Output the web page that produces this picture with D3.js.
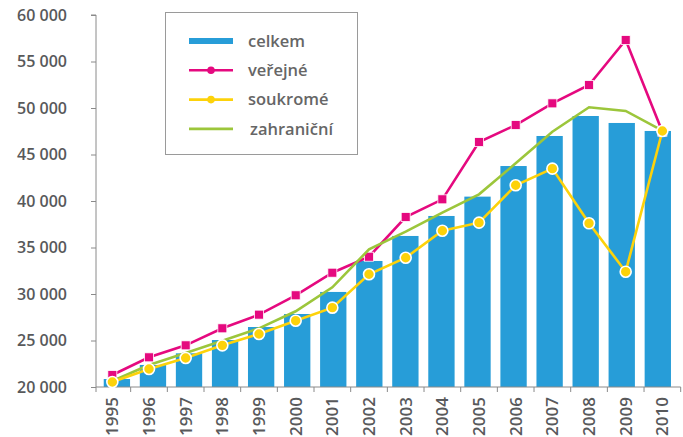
<!DOCTYPE html>
<html>
<head>
<meta charset="utf-8">
<script src="https://cdn.jsdelivr.net/npm/d3@7"></script>
<style>
  body { margin: 0; background: #fff; }
  svg text { font-family: "Open Sans", sans-serif; fill: #58595b; }
  .axis path, .axis line { stroke: #8a8a8a; }
</style>
</head>
<body>
<div id="chart"></div>
<script>
// data
var years = ["1995","1996","1997","1998","1999","2000","2001","2002",
             "2003","2004","2005","2006","2007","2008","2009","2010"];
var celkem = [20860, 22370, 23620, 25050, 26450, 27850, 30220, 33550,
              36240, 38390, 40470, 43760, 46990, 49140, 48390, 47530];
var verejne = [21290, 23190, 24480, 26310, 27780, 29860, 32290, 34010,
               38280, 40180, 46340, 48170, 50500, 52470, 57310, 47450];
var soukrome = [20540, 21940, 23120, 24480, 25700, 27130, 28530, 32120,
                33900, 36800, 37670, 41690, 43480, 37600, 32400, 47530];
var zahranicni = [20650, 22370, 23650, 24980, 26310, 28140, 30720, 34800,
                  36700, 38740, 40720, 44050, 47450, 50080, 49680, 47560];
var yTicks = [20000, 25000, 30000, 35000, 40000, 45000, 50000, 55000, 60000];
var legendLabels = ["celkem", "veřejné", "soukromé", "zahraniční"];

var blue = "#279dd8", pink = "#e5097f", yellow = "#fdd20a", green = "#9cc63b";

var width = 683, height = 437;
var axisX = 96, bandLeft = 94, bandRight = 680.7, plotTop = 15, plotBottom = 387;

var svg = d3.select("#chart").append("svg")
  .attr("width", width)
  .attr("height", height);

var x = d3.scaleBand().domain(years).range([bandLeft, bandRight]);
var xBar = d3.scaleBand().domain(years).range([bandLeft, bandRight]).padding(0.27);
var y = d3.scaleLinear().domain([20000, 60000]).range([plotBottom, plotTop]);

function cx(d, i) { return x(years[i]) + x.bandwidth() / 2; }

// bars
svg.append("g").selectAll("rect")
  .data(celkem)
  .enter().append("rect")
  .attr("x", function(d, i) { return xBar(years[i]); })
  .attr("y", function(d) { return y(d); })
  .attr("width", xBar.bandwidth())
  .attr("height", function(d) { return plotBottom - y(d); })
  .attr("fill", blue);

// axes
var yAxis = d3.axisLeft(y).tickValues(yTicks).tickSize(5).tickPadding(24)
  .tickFormat(function(d) { return d3.format(",")(d).replace(",", " "); });
var gy = svg.append("g").attr("class", "axis")
  .attr("transform", "translate(" + axisX + ",0)")
  .call(yAxis);
gy.select(".domain").attr("d", "M-5," + plotTop + "H0V" + plotBottom);
gy.selectAll("text").style("font-size", "16px").style("font-weight", 600);

var xAxis = d3.axisBottom(x).tickSize(0).tickSizeOuter(0);
var gx = svg.append("g").attr("class", "axis")
  .attr("transform", "translate(0," + plotBottom + ")")
  .call(xAxis);
gx.select(".domain").attr("d", "M" + axisX + ",0H" + bandRight);
gx.selectAll("text")
  .style("font-size", "17px").style("font-weight", 600)
  .attr("text-anchor", "end")
  .attr("transform", "rotate(-90)")
  .attr("x", -10).attr("y", 0).attr("dy", "0.36em");
// boundary ticks between the years
var bounds = [axisX].concat(years.map(function(d) { return x(d) + x.step(); }));
gx.selectAll(".bound")
  .data(bounds)
  .enter().append("line")
  .attr("class", "bound")
  .attr("x1", function(d) { return d; })
  .attr("x2", function(d) { return d; })
  .attr("y1", 0).attr("y2", 5);

// lines
var line = d3.line().x(cx).y(function(d) { return y(d); });

svg.append("path").datum(verejne)
  .attr("d", line).attr("fill", "none")
  .attr("stroke", pink).attr("stroke-width", 2.6);
svg.append("g").selectAll("rect")
  .data(verejne)
  .enter().append("rect")
  .attr("x", function(d, i) { return cx(d, i) - 4.5; })
  .attr("y", function(d) { return y(d) - 4.5; })
  .attr("width", 9).attr("height", 9)
  .attr("fill", pink).attr("stroke", "#fff").attr("stroke-width", 0.8);

svg.append("path").datum(zahranicni)
  .attr("d", line).attr("fill", "none")
  .attr("stroke", green).attr("stroke-width", 2.6);

svg.append("path").datum(soukrome)
  .attr("d", line).attr("fill", "none")
  .attr("stroke", yellow).attr("stroke-width", 2.6);
svg.append("g").selectAll("circle")
  .data(soukrome)
  .enter().append("circle")
  .attr("cx", cx)
  .attr("cy", function(d) { return y(d); })
  .attr("r", 5.5)
  .attr("fill", yellow).attr("stroke", "#fff").attr("stroke-width", 1.6);

// legend
var lg = svg.append("g");
lg.append("rect")
  .attr("x", 165.5).attr("y", 12.5).attr("width", 192).attr("height", 142)
  .attr("fill", "#fff").attr("stroke", "#9a9a9a").attr("stroke-width", 1);

var legendColors = [blue, pink, yellow, green];
legendLabels.forEach(function(name, i) {
  var ly = 41 + i * 29.3;
  var g = lg.append("g").attr("transform", "translate(0," + ly + ")");
  if (i === 0) {
    g.append("rect").attr("x", 189).attr("y", -3).attr("width", 44).attr("height", 6)
      .attr("fill", blue);
  } else {
    g.append("line").attr("x1", 189).attr("x2", 233).attr("y1", 0).attr("y2", 0)
      .attr("stroke", legendColors[i]).attr("stroke-width", 2.6);
    if (i < 3) {
      g.append("circle").attr("cx", 211).attr("cy", 0).attr("r", 3.8)
        .attr("fill", legendColors[i]);
    }
  }
  g.append("text")
    .attr("x", i === 3 ? 250 : 248).attr("y", 0).attr("dy", "0.35em")
    .style("font-size", "16.5px").style("font-weight", 600)
    .style("fill", "#666")
    .text(name);
});
</script>
</body>
</html>
